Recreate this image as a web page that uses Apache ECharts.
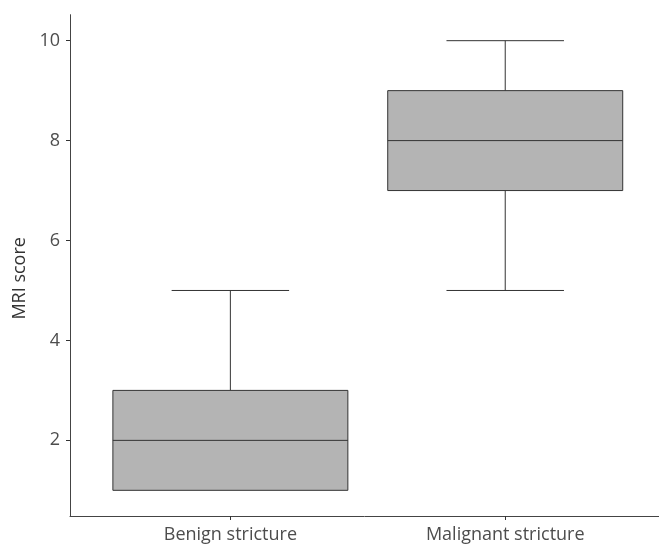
<!DOCTYPE html>
<html>
<head>
<meta charset="utf-8">
<script src="https://cdn.jsdelivr.net/npm/echarts@6/dist/echarts.min.js"></script>
<style>
html,body{margin:0;padding:0;background:#fff;}
#chart{width:659px;height:549px;}
</style>
</head>
<body>
<div id="chart"></div>
<script>
// Data
const categories = ['Benign stricture', 'Malignant stricture'];
const benign = [1, 1, 2, 3, 5];      // min, Q1, median, Q3, max
const malignant = [5, 7, 8, 9, 10];  // min, Q1, median, Q3, max
const yTicks = [2, 4, 6, 8, 10];

const boxes = [benign, malignant];
const seriesData = boxes.map((b, i) => [i + 1].concat(b));

const chart = echarts.init(document.getElementById('chart'));
const FONT = '"Open Sans", "DejaVu Sans", sans-serif';
const LINE = '#333333';

chart.setOption({
  animation: false,
  backgroundColor: '#ffffff',
  grid: { left: 70, right: 0, top: 14.7, bottom: 33, containLabel: false },
  xAxis: {
    type: 'value',
    min: 0.4165,
    max: 2.5595,
    axisLine: { show: true, lineStyle: { color: '#444', width: 1 } },
    axisTick: { show: true, length: 4, customValues: [1, 2], lineStyle: { color: '#333' } },
    axisLabel: {
      show: true,
      customValues: [1, 2],
      formatter: v => categories[Math.round(v) - 1] || '',
      color: '#4d4d4d',
      fontFamily: FONT,
      fontSize: 18,
      margin: 10
    },
    splitLine: { show: false }
  },
  yAxis: {
    type: 'value',
    min: 0.486,
    max: 10.52,
    name: 'MRI score',
    nameLocation: 'middle',
    nameGap: 41,
    nameTextStyle: { color: '#333', fontFamily: FONT, fontSize: 18, padding: [0, 26, 0, 0] },
    axisLine: { show: true, lineStyle: { color: '#444', width: 1 } },
    axisTick: { show: true, length: 4, customValues: yTicks, lineStyle: { color: '#333' } },
    axisLabel: {
      show: true,
      customValues: yTicks,
      color: '#4d4d4d',
      fontFamily: FONT,
      fontSize: 18,
      margin: 10
    },
    splitLine: { show: false }
  },
  series: [{
    type: 'custom',
    data: seriesData,
    encode: { x: 0, y: [1, 2, 3, 4, 5] },
    renderItem: function (params, api) {
      const x = api.value(0);
      const vmin = api.value(1), q1 = api.value(2), med = api.value(3), q3 = api.value(4), vmax = api.value(5);
      const unit = api.size([1, 0])[0];
      const half = unit * 0.855 / 2;
      const capHalf = half / 2;
      const c = api.coord([x, med]);
      const cx = c[0];
      const yMin = api.coord([x, vmin])[1];
      const yQ1 = api.coord([x, q1])[1];
      const yMed = c[1];
      const yQ3 = api.coord([x, q3])[1];
      const yMax = api.coord([x, vmax])[1];
      const ls = { stroke: LINE, lineWidth: 1 };
      const children = [];
      if (vmax > q3) {
        children.push({ type: 'line', shape: { x1: cx, y1: yQ3, x2: cx, y2: yMax }, style: ls });
        children.push({ type: 'line', shape: { x1: cx - capHalf, y1: yMax, x2: cx + capHalf, y2: yMax }, style: ls });
      }
      if (vmin < q1) {
        children.push({ type: 'line', shape: { x1: cx, y1: yQ1, x2: cx, y2: yMin }, style: ls });
        children.push({ type: 'line', shape: { x1: cx - capHalf, y1: yMin, x2: cx + capHalf, y2: yMin }, style: ls });
      }
      children.push({
        type: 'rect',
        shape: { x: cx - half, y: yQ3, width: half * 2, height: yQ1 - yQ3 },
        style: { fill: '#b4b4b4', stroke: LINE, lineWidth: 1 }
      });
      children.push({ type: 'line', shape: { x1: cx - half, y1: yMed, x2: cx + half, y2: yMed }, style: ls });
      return { type: 'group', children: children };
    }
  }]
});
</script>
</body>
</html>
